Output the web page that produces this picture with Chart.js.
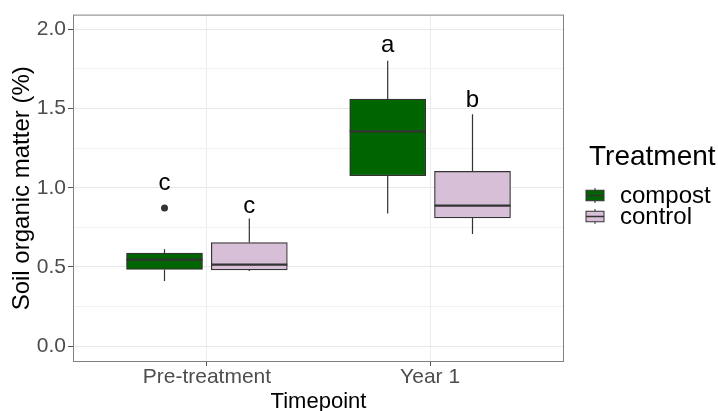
<!DOCTYPE html>
<html>
<head>
<meta charset="utf-8">
<script src="https://cdn.jsdelivr.net/npm/chart.js@4/dist/chart.umd.min.js"></script>
<style>
  body { margin: 0; background: #fff; }
  #wrap { width: 718px; height: 411px; }
</style>
</head>
<body>
<div id="wrap"><canvas id="grafica"></canvas></div>
<script>
// Datos
const timepoints = ['Pre-treatment', 'Year 1'];
const treatments = ['compost', 'control'];

const compostMin = [0.411, 0.837];
const compostQ1 = [0.484, 1.076];
const compostMedian = [0.546, 1.356];
const compostQ3 = [0.588, 1.560];
const compostMax = [0.612, 1.802];
const compostOutliers = [[0.872], []];

const controlMin = [0.474, 0.708];
const controlQ1 = [0.482, 0.810];
const controlMedian = [0.515, 0.887];
const controlQ3 = [0.654, 1.103];
const controlMax = [0.806, 1.464];
const controlOutliers = [[], []];

// letras de significancia y su altura en el eje y
const compostLetters = ['c', 'a'];
const compostLetterY = [1.03, 1.90];
const controlLetters = ['c', 'b'];
const controlLetterY = [0.88, 1.55];

const yTicks = [0, 0.25, 0.5, 0.75, 1.0, 1.25, 1.5, 1.75, 2.0];
const yTickLabels = ['0.0', '', '0.5', '', '1.0', '', '1.5', '', '2.0'];

const colores = ['#006400', '#D8BFD8'];
const dodge = 0.19;
const fuente = "'Liberation Sans', Arial, sans-serif";

const series = [
  { min: compostMin, q1: compostQ1, med: compostMedian, q3: compostQ3, max: compostMax,
    out: compostOutliers, letters: compostLetters, letterY: compostLetterY },
  { min: controlMin, q1: controlQ1, med: controlMedian, q3: controlQ3, max: controlMax,
    out: controlOutliers, letters: controlLetters, letterY: controlLetterY }
];

function posX(i, s) {
  return i + 1 + (s === 0 ? -dodge : dodge);
}

const cajas = treatments.map((t, s) => ({
  type: 'bar',
  label: t,
  data: timepoints.map((tp, i) => ({ x: posX(i, s), y: [series[s].q1[i], series[s].q3[i]] })),
  backgroundColor: colores[s],
  borderColor: '#333333',
  borderWidth: 1.2,
  borderSkipped: false,
  barThickness: 76,
  grouped: false
}));

const atipicos = {
  type: 'scatter',
  label: 'outliers',
  data: series.flatMap((se, s) =>
    se.out.flatMap((vals, i) => vals.map(v => ({ x: posX(i, s), y: v })))),
  pointRadius: 3.5,
  pointBackgroundColor: '#333333',
  pointBorderWidth: 0
};

// Bigotes, medianas, letras, borde del panel y leyenda
const boxplotPlugin = {
  id: 'boxplot',
  afterDatasetsDraw(chart) {
    const { ctx, scales: { y }, chartArea } = chart;
    ctx.save();
    series.forEach((se, s) => {
      const meta = chart.getDatasetMeta(s);
      meta.data.forEach((bar, i) => {
        const { x: cx, width } = bar.getProps(['x', 'width'], true);
        ctx.strokeStyle = '#333333';
        ctx.lineWidth = 1.2;
        ctx.beginPath();
        ctx.moveTo(cx, y.getPixelForValue(se.q3[i]));
        ctx.lineTo(cx, y.getPixelForValue(se.max[i]));
        ctx.moveTo(cx, y.getPixelForValue(se.q1[i]));
        ctx.lineTo(cx, y.getPixelForValue(se.min[i]));
        ctx.stroke();

        ctx.lineWidth = 2.4;
        const ym = y.getPixelForValue(se.med[i]);
        ctx.beginPath();
        ctx.moveTo(cx - width / 2, ym);
        ctx.lineTo(cx + width / 2, ym);
        ctx.stroke();

        ctx.fillStyle = '#000';
        ctx.font = '24px ' + fuente;
        ctx.textAlign = 'center';
        ctx.textBaseline = 'middle';
        ctx.fillText(se.letters[i], cx, y.getPixelForValue(se.letterY[i]));
      });
    });

    ctx.strokeStyle = '#808080';
    ctx.lineWidth = 1;
    ctx.strokeRect(chartArea.left + 0.5, chartArea.top + 0.5,
      chartArea.right - chartArea.left - 1, chartArea.bottom - chartArea.top - 1);
    ctx.restore();
  },
  afterDraw(chart) {
    const { ctx } = chart;
    ctx.save();
    ctx.fillStyle = '#000';
    ctx.textAlign = 'left';
    ctx.textBaseline = 'alphabetic';
    ctx.font = '28px ' + fuente;
    ctx.fillText('Treatment', 589, 165);

    treatments.forEach((t, s) => {
      const cy = 195.5 + s * 21;
      const cx = 595;
      ctx.strokeStyle = '#333333';
      ctx.lineWidth = 1;
      ctx.beginPath();
      ctx.moveTo(cx, cy - 7.5);
      ctx.lineTo(cx, cy + 7.5);
      ctx.stroke();
      ctx.fillStyle = colores[s];
      ctx.fillRect(cx - 9, cy - 5.25, 18, 10.5);
      ctx.strokeRect(cx - 9, cy - 5.25, 18, 10.5);
      ctx.lineWidth = 1.5;
      ctx.beginPath();
      ctx.moveTo(cx - 9, cy);
      ctx.lineTo(cx + 9, cy);
      ctx.stroke();

      ctx.fillStyle = '#000';
      ctx.font = '24px ' + fuente;
      ctx.fillText(t, 620, cy + 7.8);
    });
    ctx.restore();
  }
};

new Chart(document.getElementById('grafica').getContext('2d'), {
  type: 'bar',
  data: { datasets: [...cajas, atipicos] },
  options: {
    responsive: true,
    maintainAspectRatio: false,
    animation: false,
    layout: { padding: { top: 10, right: 154, left: 0, bottom: 0 } },
    plugins: {
      legend: { display: false },
      tooltip: { enabled: false }
    },
    scales: {
      x: {
        type: 'linear',
        min: 0.4,
        max: 2.6,
        offset: false,
        afterBuildTicks: scale => { scale.ticks = timepoints.map((t, i) => ({ value: i + 1 })); },
        afterFit: scale => { scale.height = 49; },
        ticks: {
          callback: v => timepoints[Math.round(v) - 1],
          color: '#4d4d4d',
          font: { family: fuente, size: 21, lineHeight: 1.1 },
          padding: 0,
          maxRotation: 0
        },
        grid: { offset: false, color: '#ebebeb', tickColor: '#555', tickLength: 4 },
        border: { display: false },
        title: {
          display: true,
          text: 'Timepoint',
          color: '#000',
          font: { family: fuente, size: 22, lineHeight: 0.85 },
          padding: { top: 0, bottom: 0 }
        }
      },
      y: {
        min: -0.1,
        max: 2.093,
        afterBuildTicks: scale => { scale.ticks = yTicks.map(v => ({ value: v })); },
        afterFit: scale => { scale.width = 73; },
        ticks: {
          callback: (v, i) => yTickLabels[i],
          color: '#4d4d4d',
          font: { family: fuente, size: 21 },
          padding: 2
        },
        grid: {
          color: ctx => (ctx.tick && yTickLabels[ctx.index] !== '') ? '#e8e8e8' : '#f1f1f1',
          tickColor: ctx => (yTickLabels[ctx.index] !== '') ? '#555' : 'rgba(0,0,0,0)',
          tickLength: 5
        },
        border: { display: false },
        title: {
          display: true,
          text: 'Soil organic matter (%)',
          color: '#000',
          font: { family: fuente, size: 24, lineHeight: 1 },
          padding: { top: 10, bottom: 0 }
        }
      }
    }
  },
  plugins: [boxplotPlugin]
});
</script>
</body>
</html>
